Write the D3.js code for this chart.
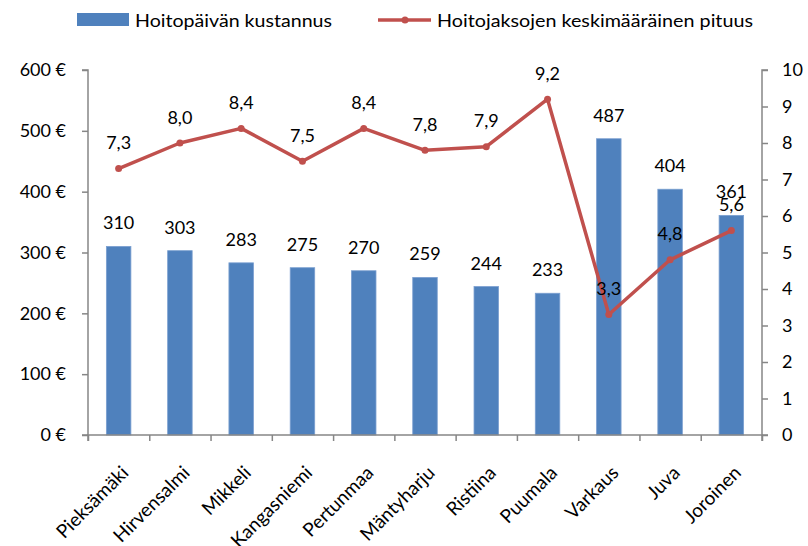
<!DOCTYPE html>
<html><head><meta charset="utf-8">
<script src="https://cdn.jsdelivr.net/npm/d3@7"></script>
<style>body{margin:0;background:#fff}svg{display:block;font-family:Lato,"Open Sans",sans-serif}</style>
</head><body><svg id="c" width="808" height="546"></svg>
<script>
const categories = ["Pieksämäki","Hirvensalmi","Mikkeli","Kangasniemi","Pertunmaa","Mäntyharju","Ristiina","Puumala","Varkaus","Juva","Joroinen"];
const costValues = [310,303,283,275,270,259,244,233,487,404,361];
const lengthValues = [7.3,8.0,8.4,7.5,8.4,7.8,7.9,9.2,3.3,4.8,5.6];
const leftTicks = [0,100,200,300,400,500,600];
const rightTicks = [0,1,2,3,4,5,6,7,8,9,10];
const seriesNames = ["Hoitopäivän kustannus","Hoitojaksojen keskimääräinen pituus"];

const svg = d3.select("#c");
const L=88,R=762,T=70,B=435;
const blue="#4F81BD", red="#C0504D", axisCol="#868686", fs=18;

const x = d3.scaleBand().domain(categories).range([L,R]).paddingInner(0.6).paddingOuter(0.3);
const yL = d3.scaleLinear().domain([0,600]).range([B,T]);
const yR = d3.scaleLinear().domain([0,10]).range([B,T]);
const fmt = d3.format(".1f");
const comma = v => fmt(v).replace(".",",");

// bars
svg.append("g").selectAll("rect").data(costValues).join("rect")
  .attr("x",(d,i)=>x(categories[i])).attr("width",x.bandwidth())
  .attr("y",d=>yL(d)).attr("height",d=>B-yL(d))
  .attr("fill",blue).attr("stroke","#7a9fd0").attr("stroke-width",0.8);

// axes
const gl = svg.append("g").attr("transform",`translate(${L},0)`)
  .call(d3.axisLeft(yL).tickValues(leftTicks).tickSize(6).tickPadding(16).tickFormat(d=>d+" €"));
const gr = svg.append("g").attr("transform",`translate(${R},0)`)
  .call(d3.axisRight(yR).tickValues(rightTicks).tickSize(6).tickPadding(14).tickFormat(d=>d));
const xb = d3.scaleLinear().domain([0,categories.length]).range([L,R]);
const gb = svg.append("g").attr("transform",`translate(0,${B})`)
  .call(d3.axisBottom(xb).tickValues(d3.range(categories.length+1)).tickSize(6).tickFormat(""));
[gl,gr,gb].forEach(g=>{
  g.select(".domain").attr("stroke",axisCol).attr("stroke-width",1.5);
  g.selectAll(".tick line").attr("stroke",axisCol).attr("stroke-width",1.5);
  g.selectAll("text").attr("font-size",fs).attr("fill","#000").attr("font-family","Lato");
});
gl.select(".domain").attr("d",`M-6,${B}H0V${T}H-6`);
gr.select(".domain").attr("d",`M6,${B}H0V${T}H6`);
gb.select(".domain").attr("d",`M${L},6V0H${R}V6`);

// x labels
svg.append("g").selectAll("text").data(categories).join("text")
  .attr("transform",d=>`translate(${x(d)+x.bandwidth()/2+11},474) rotate(-45)`)
  .attr("text-anchor","end").attr("font-size",19).text(d=>d);

// line
const cx = i => x(categories[i])+x.bandwidth()/2;
svg.append("path").datum(lengthValues)
  .attr("d",d3.line().x((d,i)=>cx(i)).y(d=>yR(d)))
  .attr("fill","none").attr("stroke",red).attr("stroke-width",3.5).attr("stroke-linejoin","round");
svg.append("g").selectAll("circle").data(lengthValues).join("circle")
  .attr("cx",(d,i)=>cx(i)).attr("cy",d=>yR(d)).attr("r",3.5).attr("fill",red);

// labels
svg.append("g").selectAll("text").data(costValues).join("text")
  .attr("x",(d,i)=>cx(i)).attr("y",d=>yL(d)-17).attr("text-anchor","middle")
  .attr("font-size",fs).text(d=>d);
svg.append("g").selectAll("text").data(lengthValues).join("text")
  .attr("x",(d,i)=>cx(i)).attr("y",d=>yR(d)-19.5).attr("text-anchor","middle")
  .attr("font-size",fs).text(d=>comma(d));

// legend
const lg = svg.append("g");
lg.append("rect").attr("x",77).attr("y",13).attr("width",52).attr("height",13).attr("fill",blue);
lg.append("text").attr("x",135).attr("y",27).attr("font-size",fs)
  .attr("textLength",197).attr("lengthAdjust","spacingAndGlyphs").text(seriesNames[0]);
lg.append("line").attr("x1",378).attr("x2",431).attr("y1",20).attr("y2",20).attr("stroke",red).attr("stroke-width",3.5);
lg.append("circle").attr("cx",405).attr("cy",20).attr("r",3.5).attr("fill",red);
lg.append("text").attr("x",437).attr("y",27).attr("font-size",fs)
  .attr("textLength",316).attr("lengthAdjust","spacingAndGlyphs").text(seriesNames[1]);
</script></body></html>
